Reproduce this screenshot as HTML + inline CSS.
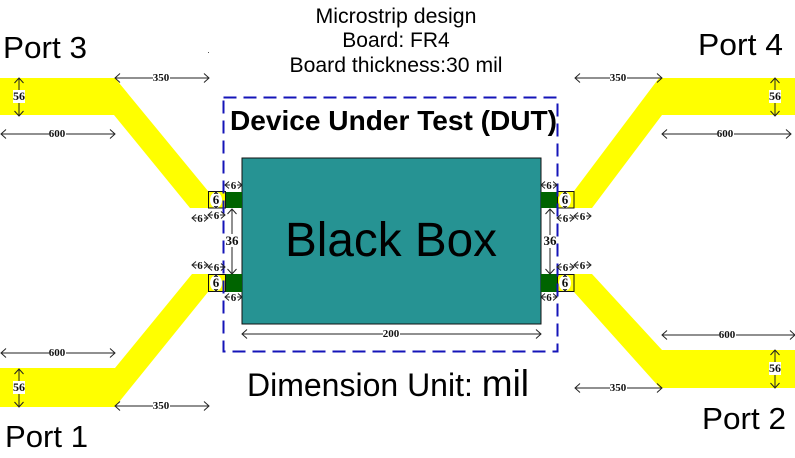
<!DOCTYPE html>
<html><head><meta charset="utf-8"><style>
html,body{margin:0;padding:0;background:#fff}
svg{display:block}
.s{font-family:"Liberation Sans",sans-serif;fill:#000}
.d{font-family:"Liberation Serif",serif;font-size:11px;font-weight:bold;fill:#111;text-anchor:middle}
.l path{stroke:#222;stroke-width:1;fill:none;marker-start:url(#a);marker-end:url(#a)}
.m path{stroke:#222;stroke-width:1;fill:none;marker-start:url(#b);marker-end:url(#b)}
</style></head><body>
<svg width="795" height="458" viewBox="0 0 795 458" xmlns="http://www.w3.org/2000/svg">
<defs>
<marker id="a" markerUnits="userSpaceOnUse" markerWidth="14" markerHeight="14" viewBox="-7 -7 14 14" refX="0" refY="0" orient="auto-start-reverse"><path d="M-5 -4.500L0 0L-5 4.500" fill="none" stroke="#222" stroke-width="1"/></marker>
<marker id="b" markerUnits="userSpaceOnUse" markerWidth="12" markerHeight="12" viewBox="-6 -6 12 12" refX="0" refY="0" orient="auto-start-reverse"><path d="M-4 -3.500L0 0L-4 3.500" fill="none" stroke="#222" stroke-width="1"/></marker>
</defs>
<g fill="#ffff00">
<polygon points="0,78 115,78 208,191 208,208 190,208 114,115 0,115"/>
<polygon points="0,368 115,368 192,274 208,274 208,292 115,407 0,407"/>
<polygon points="795,78 659,78 574,191 574,208 592,208 662,115 795,115"/>
<polygon points="795,350 662,350 592,274 574,274 574,292 660,388 795,388"/>
</g>
<rect x="242" y="158" width="299" height="166" fill="#269393" stroke="#111" stroke-width="1"/>
<g fill="#006400">
<rect x="225" y="192" width="17" height="16"/><rect x="225" y="274" width="17" height="18"/>
<rect x="541" y="192" width="16" height="16"/><rect x="541" y="274" width="16" height="18"/>
</g>
<g fill="#ffff00" stroke="#111" stroke-width="1">
<rect x="208.500" y="191.500" width="17" height="16.500"/><rect x="208.500" y="274.500" width="17" height="17"/>
<rect x="557.500" y="191.500" width="16.500" height="16.500"/><rect x="557.500" y="274.500" width="16.500" height="17"/>
</g>
<g fill="#fff">
<ellipse cx="216" cy="200" rx="6" ry="8"/><ellipse cx="216" cy="283" rx="6" ry="8"/>
<ellipse cx="565" cy="200" rx="6" ry="8"/><ellipse cx="565" cy="283" rx="6" ry="8"/>
</g>
<rect x="223.500" y="97.500" width="334" height="254" fill="none" stroke="#1414b8" stroke-width="2" stroke-dasharray="13 7"/>

<g class="l">
<path d="M115 78H209"/>
<path d="M1 134H115"/>
<path d="M1 353H115"/>
<path d="M115 406H209"/>
<path d="M575 78H662"/>
<path d="M662 134H791"/>
<path d="M662 335H795"/>
<path d="M575 388H662"/>
<path d="M242 334H541"/>
<path d="M19 78V116"/>
<path d="M19 369V407"/>
<path d="M775 78V116"/>
<path d="M775 350V388"/>
<path d="M232 209V274"/>
<path d="M550 209V274"/>
</g>
<g class="m">
<path d="M225 185H242"/>
<path d="M225 297H242"/>
<path d="M541 185H557"/>
<path d="M541 297H557"/>
<path d="M192 218H208"/>
<path d="M208 215H225"/>
<path d="M192 265H208"/>
<path d="M208 267H225"/>
<path d="M557 218H574"/>
<path d="M574 216H591"/>
<path d="M557 267H574"/>
<path d="M574 265H591"/>
<path d="M216 192V208"/>
<path d="M216 275V291"/>
<path d="M565 192V208"/>
<path d="M565 275V291"/>
</g>
<g fill="#fff">
<rect x="153" y="73" width="17" height="10"/><rect x="49" y="129" width="17" height="10"/>
<rect x="49" y="348" width="17" height="10"/><rect x="153" y="401" width="17" height="10"/>
<rect x="610" y="73" width="17" height="10"/><rect x="717" y="129" width="17" height="10"/>
<rect x="719" y="330" width="17" height="10"/><rect x="610" y="383" width="17" height="10"/>
<rect x="383" y="329" width="17" height="10"/>
<rect x="13" y="90" width="12" height="13"/><rect x="13" y="381" width="12" height="13"/>
<rect x="769" y="90" width="12" height="13"/><rect x="769" y="362" width="12" height="13"/>
<rect x="226" y="234" width="13" height="13"/><rect x="543" y="235" width="13" height="13"/>
<rect x="230" y="180" width="7" height="10"/><rect x="230" y="292" width="7" height="10"/>
<rect x="546" y="180" width="7" height="10"/><rect x="546" y="292" width="7" height="10"/>
<rect x="197" y="213" width="7" height="10"/><rect x="213" y="210" width="7" height="10"/>
<rect x="197" y="260" width="7" height="10"/><rect x="213" y="262" width="7" height="10"/>
<rect x="562" y="213" width="7" height="10"/><rect x="579" y="211" width="7" height="10"/>
<rect x="562" y="262" width="7" height="10"/><rect x="579" y="260" width="7" height="10"/>
<rect x="212" y="194" width="8" height="12"/><rect x="212" y="277" width="8" height="12"/>
<rect x="561" y="194" width="8" height="12"/><rect x="561" y="277" width="8" height="12"/>
</g>
<g class="d">
<text x="161" y="81">350</text><text x="57" y="137">600</text>
<text x="57" y="356">600</text><text x="161" y="409">350</text>
<text x="618" y="81">350</text><text x="725" y="137">600</text>
<text x="727" y="338">600</text><text x="618" y="391">350</text>
<text x="391" y="337">200</text>
<text x="19" y="100" style="font-size:12px">56</text><text x="19" y="391" style="font-size:12px">56</text>
<text x="775" y="100" style="font-size:12px">56</text><text x="775" y="372" style="font-size:12px">56</text>
<text x="232" y="245" style="font-size:13px">36</text><text x="550" y="245" style="font-size:13px">36</text>
<text x="233.500" y="189">6</text><text x="233.500" y="301">6</text>
<text x="549" y="189">6</text><text x="549" y="301">6</text>
<text x="200" y="222">6</text><text x="216.500" y="219">6</text>
<text x="200" y="269">6</text><text x="216.500" y="271">6</text>
<text x="565.500" y="222">6</text><text x="582.500" y="220">6</text>
<text x="565.500" y="271">6</text><text x="582.500" y="269">6</text>
<text x="216" y="204" style="font-size:13px">6</text><text x="216" y="287" style="font-size:13px">6</text>
<text x="565" y="204" style="font-size:13px">6</text><text x="565" y="287" style="font-size:13px">6</text>
</g>
<g class="s">
<text x="396" y="23" font-size="21" text-anchor="middle" textLength="161" lengthAdjust="spacingAndGlyphs">Microstrip design</text>
<text x="396" y="47" font-size="21" text-anchor="middle">Board: FR4</text>
<text x="396" y="72" font-size="21" text-anchor="middle" textLength="213" lengthAdjust="spacingAndGlyphs">Board thickness:30 mil</text>
<text x="3" y="58" font-size="31" textLength="84" lengthAdjust="spacingAndGlyphs">Port 3</text>
<text x="698" y="55" font-size="31" textLength="85" lengthAdjust="spacingAndGlyphs">Port 4</text>
<text x="5" y="447" font-size="31" textLength="83" lengthAdjust="spacingAndGlyphs">Port 1</text>
<text x="702" y="429" font-size="31" textLength="84" lengthAdjust="spacingAndGlyphs">Port 2</text>
<text x="230" y="130" font-size="28" font-weight="bold" textLength="327" lengthAdjust="spacingAndGlyphs">Device Under Test (DUT)</text>
<text x="391" y="256" font-size="48" text-anchor="middle" textLength="212" lengthAdjust="spacingAndGlyphs">Black Box</text>
<text x="247" y="396" font-size="32">Dimension Unit: <tspan font-size="37">mil</tspan></text>
</g>
<rect x="208" y="52" width="1" height="1" fill="#555"/>
</svg>
</body></html>
